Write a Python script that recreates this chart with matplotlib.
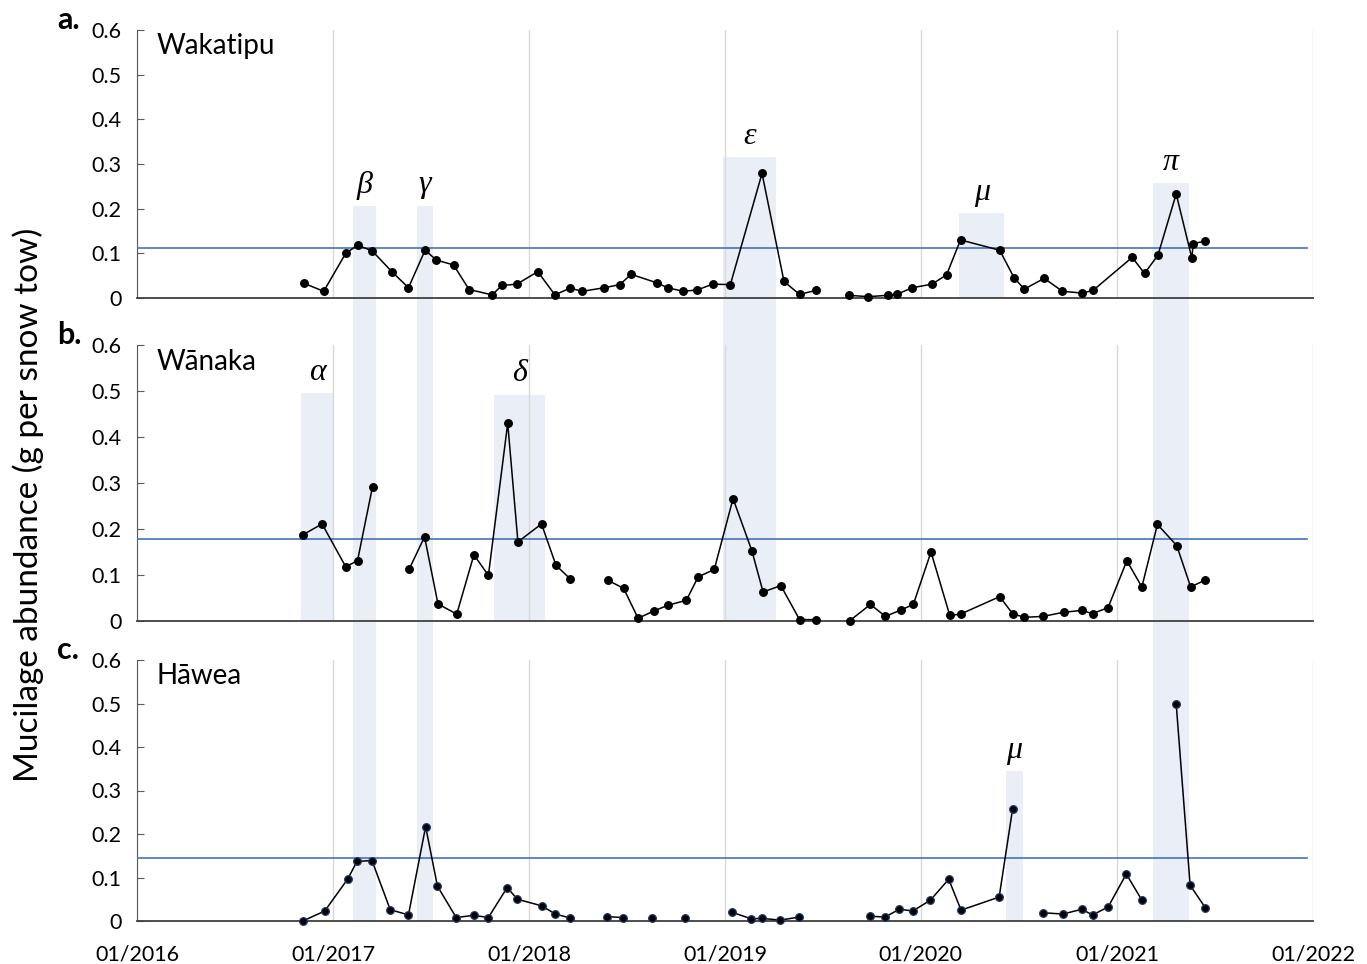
import numpy as np
import pandas as pd
import matplotlib
matplotlib.use('Agg')
import matplotlib.pyplot as plt
import matplotlib.dates as mdates
from matplotlib.patches import Rectangle
from matplotlib.transforms import blended_transform_factory
from matplotlib.ticker import FuncFormatter

plt.rcParams['font.family'] = ['Lato', 'DejaVu Sans']

lakes = ['Wakatipu', 'Wānaka', 'Hāwea']
panel_tags = ['a.', 'b.', 'c.']

# mucilage per snow tow, one list per lake
wakatipu_dates = ['2016-11-07', '2016-12-14', '2017-01-24', '2017-02-15', '2017-03-14', '2017-04-20',
                  '2017-05-21', '2017-06-21', '2017-07-12', '2017-08-13', '2017-09-11', '2017-10-24',
                  '2017-11-11', '2017-12-09', '2018-01-17', '2018-02-18', '2018-03-18', '2018-04-10',
                  '2018-05-21', '2018-06-19', '2018-07-10', '2018-08-27', '2018-09-16', '2018-10-15',
                  '2018-11-10', '2018-12-09', '2019-01-11', '2019-03-11', '2019-04-21', '2019-05-20',
                  '2019-06-19', '2019-08-20', '2019-09-25', '2019-10-31', '2019-11-17', '2019-12-16',
                  '2020-01-22', '2020-02-18', '2020-03-15', '2020-05-27', '2020-06-23', '2020-07-12',
                  '2020-08-18', '2020-09-21', '2020-10-28', '2020-11-17', '2021-01-29', '2021-02-21',
                  '2021-03-18', '2021-04-21', '2021-05-20', '2021-05-23', '2021-06-13']
wakatipu_vals = [0.033, 0.015, 0.100, 0.118, 0.106, 0.059, 0.023, 0.107, 0.085, 0.074, 0.019, 0.007,
                 0.028, 0.031, 0.059, 0.007, 0.022, 0.015, 0.023, 0.030, 0.053, 0.034, 0.023, 0.015,
                 0.018, 0.031, 0.030, 0.279, 0.037, 0.008, 0.017, 0.006, 0.003, 0.006, 0.008, 0.023,
                 0.031, 0.052, 0.130, 0.107, 0.045, 0.020, 0.044, 0.015, 0.011, 0.017, 0.091, 0.055,
                 0.096, 0.233, 0.090, 0.122, 0.127]
wakatipu_breaks = [31]

wanaka_dates = ['2016-11-06', '2016-12-11', '2017-01-24', '2017-02-15', '2017-03-15', '2017-05-22',
                '2017-06-20', '2017-07-15', '2017-08-19', '2017-09-20', '2017-10-17', '2017-11-22',
                '2017-12-11', '2018-01-24', '2018-02-20', '2018-03-19', '2018-05-27', '2018-06-26',
                '2018-07-23', '2018-08-22', '2018-09-16', '2018-10-21', '2018-11-12', '2018-12-12',
                '2019-01-16', '2019-02-20', '2019-03-13', '2019-04-15', '2019-05-20', '2019-06-19',
                '2019-08-22', '2019-09-29', '2019-10-27', '2019-11-25', '2019-12-18', '2020-01-20',
                '2020-02-24', '2020-03-15', '2020-05-27', '2020-06-20', '2020-07-12', '2020-08-16',
                '2020-09-23', '2020-10-27', '2020-11-16', '2020-12-15', '2021-01-19', '2021-02-16',
                '2021-03-17', '2021-04-22', '2021-05-18', '2021-06-14']
wanaka_vals = [0.188, 0.211, 0.118, 0.131, 0.292, 0.112, 0.183, 0.037, 0.015, 0.144, 0.099, 0.430,
               0.172, 0.211, 0.121, 0.091, 0.089, 0.071, 0.006, 0.022, 0.034, 0.045, 0.096, 0.112,
               0.266, 0.153, 0.063, 0.077, 0.003, 0.003, 0.001, 0.036, 0.010, 0.024, 0.036, 0.150,
               0.012, 0.015, 0.053, 0.016, 0.008, 0.010, 0.019, 0.023, 0.016, 0.029, 0.131, 0.074,
               0.210, 0.164, 0.074, 0.089]
wanaka_breaks = [5, 16, 30]

hawea_dates = ['2016-11-05', '2016-12-16', '2017-01-28', '2017-02-14', '2017-03-14', '2017-04-17',
               '2017-05-21', '2017-06-22', '2017-07-14', '2017-08-18', '2017-09-20', '2017-10-17',
               '2017-11-21', '2017-12-10', '2018-01-24', '2018-02-19', '2018-03-18', '2018-05-26',
               '2018-06-24', '2018-08-18', '2018-10-19', '2019-01-14', '2019-02-19', '2019-03-11',
               '2019-04-14', '2019-05-19', '2019-09-29', '2019-10-26', '2019-11-22', '2019-12-17',
               '2020-01-19', '2020-02-22', '2020-03-16', '2020-05-26', '2020-06-20', '2020-08-15',
               '2020-09-22', '2020-10-27', '2020-11-16', '2020-12-15', '2021-01-18', '2021-02-16',
               '2021-04-21', '2021-05-17', '2021-06-14']
hawea_vals = [0.000, 0.023, 0.097, 0.137, 0.139, 0.026, 0.014, 0.217, 0.080, 0.008, 0.013, 0.008,
              0.077, 0.050, 0.035, 0.016, 0.007, 0.010, 0.008, 0.008, 0.008, 0.020, 0.005, 0.006,
              0.002, 0.009, 0.011, 0.009, 0.027, 0.023, 0.048, 0.096, 0.025, 0.055, 0.257, 0.019,
              0.016, 0.027, 0.014, 0.032, 0.108, 0.048, 0.499, 0.082, 0.031]
hawea_breaks = [17, 19, 20, 21, 26, 35, 42]

thresholds = [0.112, 0.178, 0.145]
threshold_end = '2021-12-20'

# shaded events (top panel -> bottom panel they run through)
band_labels = ['α', 'β', 'γ', 'δ', 'ε', 'μ', 'π', 'μ']
band_start = ['2016-11-01', '2017-02-06', '2017-06-05', '2017-10-27', '2018-12-29', '2020-03-13',
              '2021-03-08', '2020-06-08']
band_end = ['2017-01-01', '2017-03-22', '2017-07-06', '2018-01-31', '2019-04-06', '2020-06-04',
            '2021-05-15', '2020-07-09']
band_top = [0.495, 0.205, 0.207, 0.491, 0.315, 0.191, 0.258, 0.345]
band_top_panel = [1, 0, 0, 1, 0, 0, 0, 2]
band_bottom_panel = [1, 2, 2, 1, 1, 0, 2, 2]

series = [(wakatipu_dates, wakatipu_vals, wakatipu_breaks),
          (wanaka_dates, wanaka_vals, wanaka_breaks),
          (hawea_dates, hawea_vals, hawea_breaks)]

W, H = 1367, 964
fig = plt.figure(figsize=(W / 100, H / 100), dpi=100)

# panel boxes in pixels: (top, bottom)
boxes = [(30, 298), (345, 621), (660, 921)]
left_px, right_px = 137, 1313
axes = []
for top, bot in boxes:
    ax = fig.add_axes([left_px / W, 1 - bot / H, (right_px - left_px) / W, (bot - top) / H])
    axes.append(ax)

years = [pd.Timestamp(f'{y}-01-01') for y in range(2016, 2023)]
ymax = 0.6

for i, ax in enumerate(axes):
    dates, vals, breaks = series[i]
    dates = pd.to_datetime(dates)
    vals = np.array(vals)
    edge = '#1F3864' if i == 2 else 'black'
    cuts = [0] + breaks + [len(vals)]
    for s, e in zip(cuts[:-1], cuts[1:]):
        ax.plot(dates[s:e], vals[s:e], color='black', lw=1.1, marker='o', ms=5.5,
                mfc='black', mec=edge, mew=0.9, clip_on=False, zorder=4)

    ax.plot([years[0], pd.Timestamp(threshold_end)], [thresholds[i], thresholds[i]],
            color='#4472C4', lw=1.2, zorder=3)

    ax.set_xlim(years[0], years[-1])
    ax.set_ylim(0, ymax)
    ax.set_facecolor('none')
    ax.set_xticks(years)
    ax.xaxis.set_major_formatter(mdates.DateFormatter('%m/%Y'))
    ax.grid(axis='x', color='#D9D9D9', lw=1)
    ax.set_axisbelow(True)
    ax.set_yticks(np.arange(0, 0.61, 0.1))
    ax.yaxis.set_major_formatter(FuncFormatter(lambda v, p: '0' if abs(v) < 1e-9 else f'{v:.1f}'))
    ax.tick_params(axis='y', direction='in', length=5, color='#595959', labelsize=15.5, pad=11)
    ax.tick_params(axis='x', length=0, labelsize=15.5, pad=17, labelbottom=(i == 2))
    for sp in ['top', 'right']:
        ax.spines[sp].set_visible(False)
    ax.spines['left'].set_color('#595959')
    ax.spines['bottom'].set_color('#404040')
    ax.spines['bottom'].set_linewidth(1.3)

    ax.text(0.017, 0.94, lakes[i], transform=ax.transAxes, fontsize=20, va='center', ha='left')

# shaded bands, drawn at figure level so they run through the gaps between panels
xform = blended_transform_factory(axes[0].transData, fig.transFigure)
for lab, s, e, top, tp, bp in zip(band_labels, band_start, band_end, band_top,
                                  band_top_panel, band_bottom_panel):
    x0 = mdates.date2num(pd.Timestamp(s))
    x1 = mdates.date2num(pd.Timestamp(e))
    t_top, t_bot = boxes[tp]
    y_top = 1 - (t_bot - (t_bot - t_top) * top / ymax) / H
    y_bot = 1 - boxes[bp][1] / H
    fig.add_artist(Rectangle((x0, y_bot), x1 - x0, y_top - y_bot, transform=xform,
                             facecolor='#E9EEF7', edgecolor='none', zorder=-1))
    axes[tp].text((x0 + x1) / 2, top + 0.046, lab, ha='center', va='center', fontsize=23,
                  fontstyle='italic', family='Liberation Serif')

for tag, (top, bot) in zip(panel_tags, boxes):
    fig.text(57 / W, 1 - (top - 10) / H, tag, fontsize=22, fontweight='bold', ha='left', va='center')

fig.text(28 / W, 1 - 505 / H, 'Mucilage abundance (g per snow tow)', rotation=90,
         fontsize=24, ha='center', va='center')

fig.savefig('out.png', dpi=100)
